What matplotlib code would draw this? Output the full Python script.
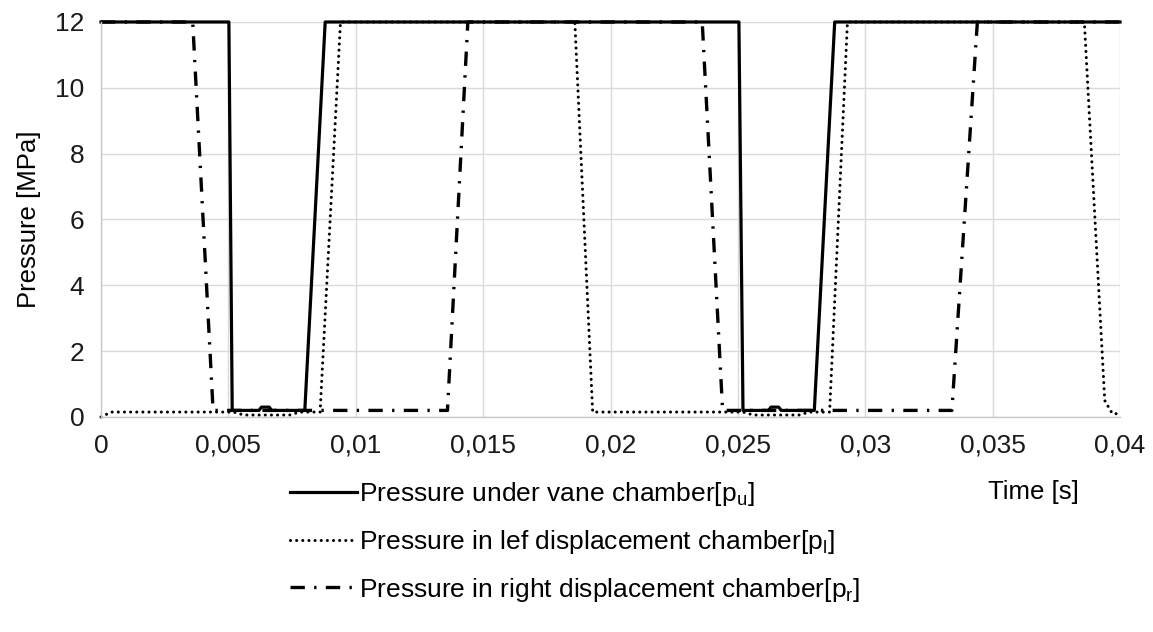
import matplotlib
matplotlib.use("Agg")
import matplotlib.pyplot as plt

plt.rcParams["font.family"] = ["Liberation Sans", "DejaVu Sans"]

# pressure under vane chamber p_u
t_pu = [0.0, 0.00502, 0.00515, 0.0062, 0.0063, 0.0066, 0.0067, 0.0080, 0.0088,
        0.02504, 0.0252, 0.0262, 0.0263, 0.0266, 0.0267, 0.0280, 0.0288, 0.0400]
p_pu = [12, 12, 0.2, 0.2, 0.3, 0.3, 0.2, 0.2, 12,
        12, 0.2, 0.2, 0.3, 0.3, 0.2, 0.2, 12, 12]

# pressure in left displacement chamber p_l
t_pl = [0.0, 0.0004, 0.0052, 0.0056, 0.0074, 0.0078, 0.0086, 0.0094,
        0.0186, 0.0193, 0.0252, 0.0256, 0.0274, 0.0278, 0.0286, 0.0293,
        0.0386, 0.0394, 0.0397, 0.0399]
p_pl = [0.0, 0.15, 0.15, 0.06, 0.06, 0.15, 0.15, 12,
        12, 0.15, 0.15, 0.06, 0.06, 0.15, 0.15, 12,
        12, 0.5, 0.1, 0.1]

# pressure in right displacement chamber p_r
t_pr = [0.0, 0.0036, 0.0044, 0.0136, 0.0144, 0.0236, 0.0244, 0.0334, 0.0344, 0.0400]
p_pr = [12, 12, 0.2, 0.2, 12, 12, 0.2, 0.2, 12, 12]

labels = [
    r"Pressure under vane chamber[p$_\mathregular{u}$]",
    r"Pressure in lef displacement chamber[p$_\mathregular{l}$]",
    r"Pressure in right displacement chamber[p$_\mathregular{r}$]",
]

x_ticks = [0, 0.005, 0.01, 0.015, 0.02, 0.025, 0.03, 0.035, 0.04]
x_ticklabels = ["0", "0,005", "0,01", "0,015", "0,02", "0,025", "0,03", "0,035", "0,04"]
y_ticks = [0, 2, 4, 6, 8, 10, 12]

fs = 19
fig = plt.figure(figsize=(11.53, 6.32), dpi=100)
ax = fig.add_axes([0.0876, 0.3402, 0.8838, 0.625])

l_pr, = ax.plot(t_pr, p_pr, color="black", lw=2.4, clip_on=False,
                dashes=(4.3, 2.8, 0.7, 2.8), dash_capstyle="butt")
l_pl, = ax.plot(t_pl, p_pl, color="black", lw=2.2, clip_on=False,
                dashes=(0.01, 2.0), dash_capstyle="round")
l_pu, = ax.plot(t_pu, p_pu, color="black", lw=2.3, clip_on=False)

ax.set_xlim(0, 0.04)
ax.set_ylim(0, 12)
ax.set_xticks(x_ticks)
ax.set_xticklabels(x_ticklabels)
ax.set_yticks(y_ticks)
ax.tick_params(length=0, labelsize=fs, pad=12, colors="#1a1a1a")
ax.grid(True, color="#dadada", lw=1.0)
ax.set_axisbelow(True)
for s in ["top", "right"]:
    ax.spines[s].set_visible(False)
for s in ["left", "bottom"]:
    ax.spines[s].set_color("#c8c8c8")
    ax.spines[s].set_linewidth(1.0)

ax.set_ylabel("Pressure [MPa]", fontsize=18.5, labelpad=10)
ax.set_xlabel("Time [s]", fontsize=18.5)
ax.xaxis.set_label_coords(0.915, -0.16)

fig.legend([l_pu, l_pl, l_pr], labels, loc="upper left",
           bbox_to_anchor=(290 / 1153, 1 - 480 / 632), frameon=False,
           fontsize=fs, handlelength=2.55, handletextpad=0.05,
           labelspacing=0.75, borderpad=0, borderaxespad=0)

fig.savefig("out.png", dpi=100)
